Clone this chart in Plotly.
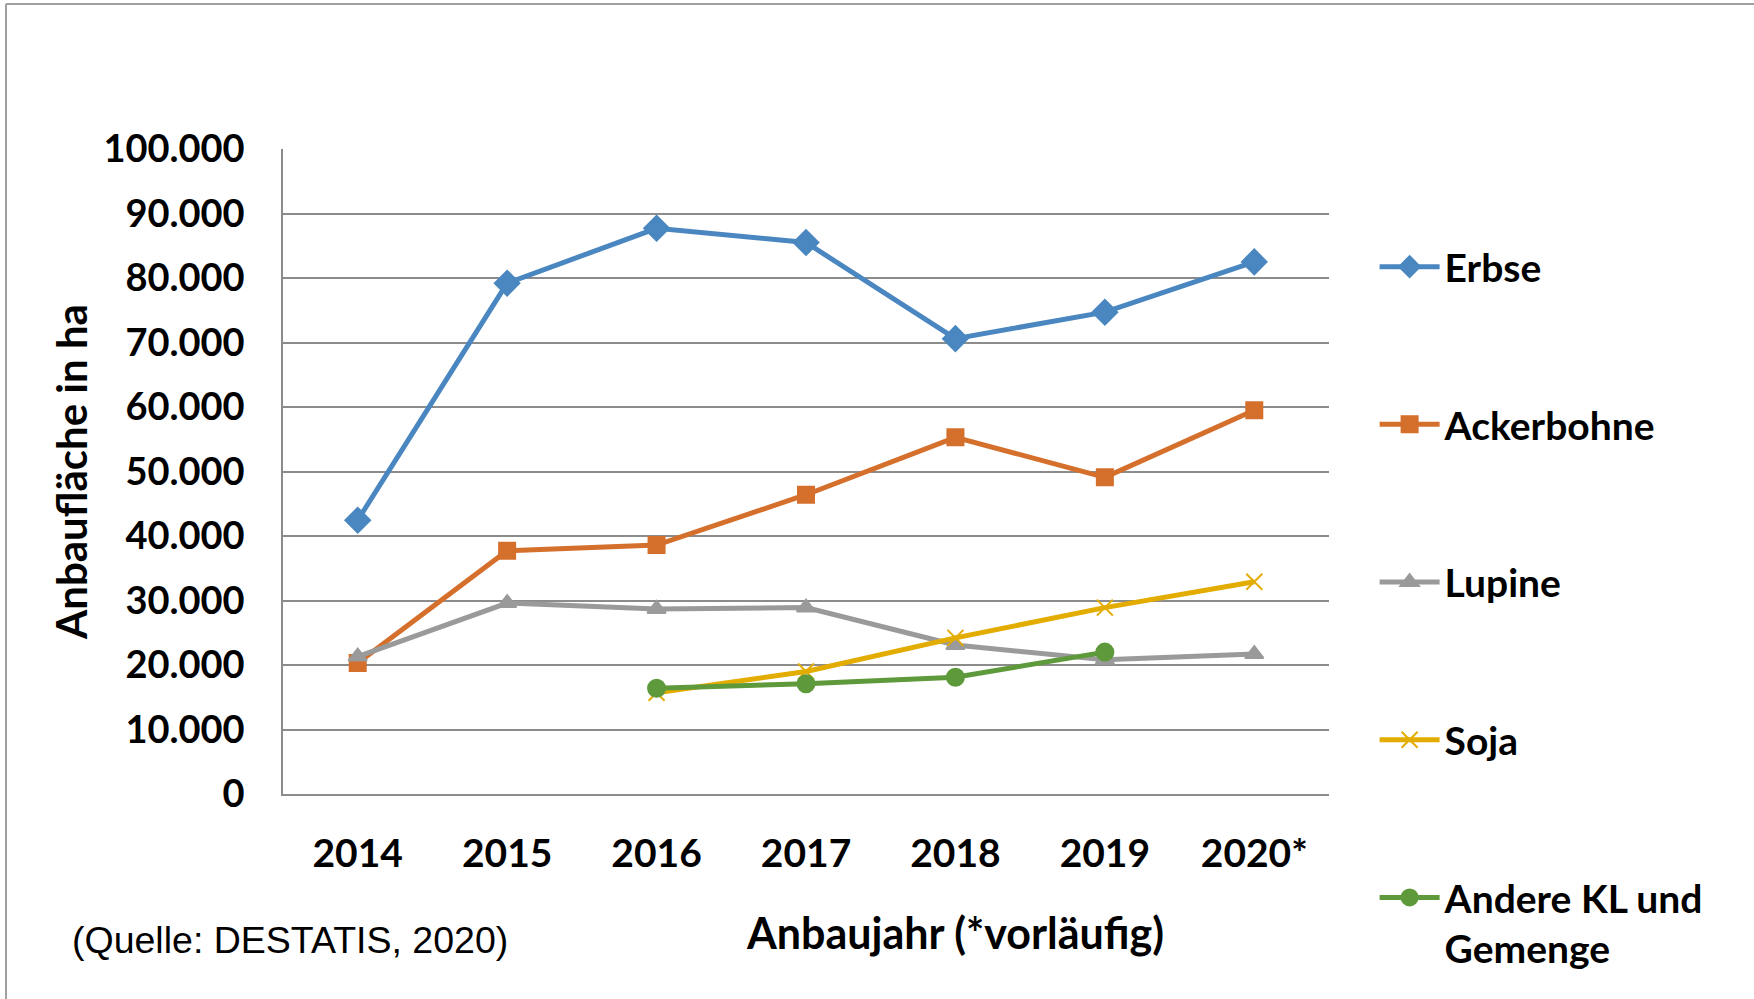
import plotly.graph_objects as go

years = ["2014", "2015", "2016", "2017", "2018", "2019", "2020*"]
erbse = [42450, 79200, 87700, 85500, 70600, 74700, 82500]
ackerbohne = [20300, 37700, 38600, 46400, 55300, 49100, 59500]
lupine = [21300, 29600, 28700, 28900, 23100, 20800, 21700]
soja = [None, None, 15700, 19000, 24200, 28900, 32900]
andere = [None, None, 16400, 17100, 18100, 22000, None]

y_ticks = [0, 10000, 20000, 30000, 40000, 50000, 60000, 70000, 80000, 90000, 100000]
y_tick_labels = ["0", "10.000", "20.000", "30.000", "40.000", "50.000",
                 "60.000", "70.000", "80.000", "90.000", "100.000"]

series = [
    ("Erbse", erbse, "#4A87C0", "diamond", 19),
    ("Ackerbohne", ackerbohne, "#D56F2C", "square", 16),
    ("Lupine", lupine, "#9A9A9A", "triangle-up", 16),
    ("Soja", soja, "#E3AC00", "x-thin", 16),
    ("Andere KL und<br>Gemenge", andere, "#5E9A3B", "circle", 17),
]

FONT = "Lato"
L, R, T, B = 283, 425, 149, 205
PW = 1754 - L - R
PH = 999 - T - B

fig = go.Figure()
for i, (name, vals, color, sym, size) in enumerate(series):
    fig.add_trace(go.Scatter(
        x=years, y=vals, name=name, mode="lines+markers",
        line=dict(color=color, width=5),
        marker=dict(symbol=sym, size=size, color=color,
                    line=dict(color=color, width=2)),
        legendgroup=f"g{i}",
        connectgaps=False,
    ))

fig.update_layout(
    width=1754, height=999,
    paper_bgcolor="white", plot_bgcolor="white",
    margin=dict(l=L, r=R, t=T, b=B),
    font=dict(family=FONT, color="black"),
    showlegend=True,
    legend=dict(
        x=1.0436, xanchor="left", xref="paper",
        y=0.867, yanchor="top",
        font=dict(family=FONT, size=39, color="black", weight="bold"),
        tracegroupgap=104,
        itemwidth=60,
        valign="top",
        maxheight=999,
        bgcolor="rgba(0,0,0,0)",
    ),
    xaxis=dict(
        type="category", range=[-0.5, 6.5],
        showgrid=False, showline=True, linecolor="#8C8C8C", linewidth=1.5,
        ticks="", tickfont=dict(family=FONT, size=39, color="black", weight="bold"),
        ticklabelstandoff=24,
    ),
    yaxis=dict(
        range=[0, 100000], tickvals=y_ticks, ticktext=y_tick_labels,
        showgrid=True, gridcolor="#8C8C8C", gridwidth=1.5,
        showline=True, linecolor="#8C8C8C", linewidth=1.5,
        zeroline=False, ticks="",
        tickfont=dict(family=FONT, size=38, color="black", weight="bold"),
        ticklabelstandoff=29,
        title=dict(text="Anbaufläche in ha",
                   font=dict(family=FONT, size=42, color="black", weight="bold"),
                   standoff=3),
    ),
    annotations=[
        dict(text="Anbaujahr (*vorläufig)", xref="paper", yref="paper",
             x=(955 - L) / PW, y=(794 - 932) / PH, xanchor="center", yanchor="middle",
             showarrow=False,
             font=dict(family=FONT, size=43, color="black", weight="bold")),
        dict(text="(Quelle: DESTATIS, 2020)", xref="paper", yref="paper",
             x=(70 - L) / PW, y=(794 - 940) / PH,
             xanchor="left", yanchor="middle", showarrow=False,
             font=dict(family="Liberation Sans", size=37.5, color="black")),
    ],
    shapes=[
        dict(type="line", xref="paper", yref="paper",
             x0=(6 - L) / PW, x1=(1760 - L) / PW,
             y0=(794 - 4) / PH, y1=(794 - 4) / PH,
             line=dict(color="#A0A0A0", width=2)),
        dict(type="line", xref="paper", yref="paper",
             x0=(6 - L) / PW, x1=(6 - L) / PW,
             y0=(794 - 4) / PH, y1=(794 - 1005) / PH,
             line=dict(color="#A0A0A0", width=2)),
    ],
)

fig.write_html("out.html", config={"displayModeBar": False},
               post_script="document.body.style.margin='0px';")
